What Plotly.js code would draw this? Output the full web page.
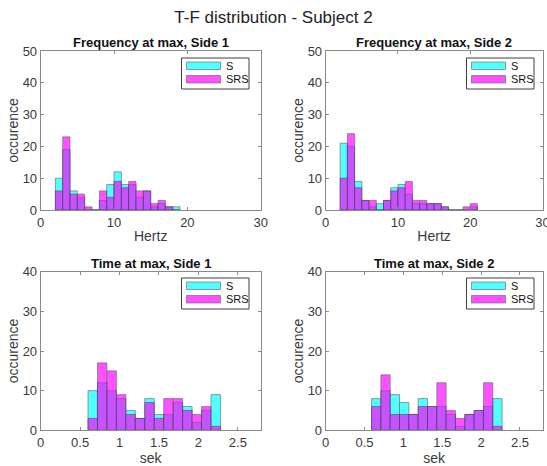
<!DOCTYPE html>
<html>
<head>
<meta charset="utf-8">
<script src="https://cdn.plot.ly/plotly-3.0.1.min.js"></script>
<style>html,body{margin:0;padding:0;background:#fff;}#chart{width:547px;height:466px;}</style>
</head>
<body>
<div id="chart"></div>
<script>
// ---- Data (bin counts) ----
const seriesNames = ["S", "SRS"];

// Frequency at max (Hz), 1 Hz bins
const freqBinStart1 = 2;   const freqBinWidth = 1;
const freqS_side1   = [10, 19, 6, 4, 0, 0, 3, 8, 12, 8, 8, 4, 6, 1, 2, 1, 1];
const freqSRS_side1 = [ 6, 23, 5, 5, 1, 0, 6, 4,  9, 7, 9, 6, 6, 2, 3, 1, 0];

const freqBinStart2 = 2;
const freqS_side2   = [21, 20, 9, 3, 1, 2, 3, 7, 8, 5, 2, 2, 2, 2, 1, 0, 0, 0, 1];
const freqSRS_side2 = [10, 24, 7, 3, 3, 0, 3, 6, 7, 9, 3, 3, 2, 2, 1, 0, 0, 1, 2];

// Time at max (sek), 0.12 s bins
const timeBinWidth = 0.12;
const timeBinStart1 = 0.60;
const timeS_side1   = [10, 12, 10, 8, 5, 3, 8, 4, 4, 7, 6, 2, 5, 9];
const timeSRS_side1 = [ 3, 17, 15, 9, 4, 3, 7, 3, 8, 8, 5, 4, 6, 1];

const timeBinStart2 = 0.59;
const timeS_side2   = [8, 10, 9, 7, 4, 8, 6,  6, 4, 1, 4, 5,  6, 8];
const timeSRS_side2 = [6, 14, 4, 4, 4, 6, 6, 12, 5, 3, 4, 5, 12, 1];

const titles = ["Frequency at max, Side 1", "Frequency at max, Side 2", "Time at max, Side 1", "Time at max, Side 2"];
const mainTitle = "T-F distribution - Subject 2";

// ---- Helpers ----
function centers(start, width, n) {
  const c = [];
  for (let i = 0; i < n; i++) c.push(+(start + width * (i + 0.5)).toFixed(4));
  return c;
}
const cyan = "rgb(0,255,255)";
const magenta = "rgb(255,0,255)";
const op = 0.68;
const edgeCol = "rgba(40,40,60,0.85)";
const edge = {color: edgeCol, width: 0.8};
const colors = [cyan, magenta];

const panels = [
  {s: freqS_side1, r: freqSRS_side1, start: freqBinStart1, w: freqBinWidth, xa: "x",  ya: "y"},
  {s: freqS_side2, r: freqSRS_side2, start: freqBinStart2, w: freqBinWidth, xa: "x2", ya: "y2"},
  {s: timeS_side1, r: timeSRS_side1, start: timeBinStart1, w: timeBinWidth, xa: "x3", ya: "y3"},
  {s: timeS_side2, r: timeSRS_side2, start: timeBinStart2, w: timeBinWidth, xa: "x4", ya: "y4"},
];

const traces = [];
panels.forEach(p => {
  const xs = centers(p.start, p.w, p.s.length);
  const xr = centers(p.start, p.w, p.r.length);
  traces.push({type: "bar", x: xs, y: p.s, width: p.w, name: seriesNames[0], xaxis: p.xa, yaxis: p.ya,
    marker: {color: cyan, line: edge}, opacity: op, showlegend: false, hoverinfo: "x+y"});
  traces.push({type: "bar", x: xr, y: p.r, width: p.w, name: seriesNames[1], xaxis: p.xa, yaxis: p.ya,
    marker: {color: magenta, line: edge}, opacity: op, showlegend: false, hoverinfo: "x+y"});
});

const W = 547, H = 466;
const fx = v => v / W, fy = v => 1 - v / H;
const domL = [fx(40.7), fx(260.7)], domR = [fx(325.7), fx(542.5)];
const domT = [fy(210), fy(51)], domB = [fy(430.3), fy(271.7)];

const font = "Liberation Sans, Arial, Helvetica, sans-serif";
function axis(dom, range, dtick, title, anchor, isY) {
  return {
    domain: dom, range: range, dtick: dtick, tick0: 0, anchor: anchor,
    showline: true, mirror: "ticks", linecolor: "#8a8a8a", linewidth: 1,
    ticks: "inside", ticklen: 3, tickcolor: "#8a8a8a",
    showgrid: false, zeroline: false, fixedrange: true,
    ticklabeloverflow: "allow",
    tickfont: {family: font, size: 13, color: "#3a3a3a"},
    title: {text: title, font: {family: font, size: 14, color: "#3a3a3a"}, standoff: isY ? 0 : 2}
  };
}

// Legend boxes (MATLAB style) drawn as shapes + text
const shapes = [];
const annotations = [];
const legendOrigins = [[181.5, 58], [466.5, 58], [181.5, 278], [466.5, 278]];
legendOrigins.forEach(([lx, ly]) => {
  shapes.push({type: "rect", xref: "paper", yref: "paper",
    x0: fx(lx), x1: fx(lx + 67.5), y0: fy(ly), y1: fy(ly + 31),
    fillcolor: "#ffffff", line: {color: "#404040", width: 1}, layer: "above"});
  seriesNames.forEach((nm, i) => {
    const top = ly + 4 + i * 13.5;
    shapes.push({type: "rect", xref: "paper", yref: "paper",
      x0: fx(lx + 5), x1: fx(lx + 39), y0: fy(top), y1: fy(top + 7.5),
      fillcolor: colors[i], opacity: op, line: {color: edgeCol, width: 0.8}, layer: "above"});
    annotations.push({text: nm, xref: "paper", yref: "paper", x: fx(lx + 42), y: fy(top + 3.9),
      xanchor: "left", yanchor: "middle", showarrow: false,
      font: {family: font, size: 11, color: "#111"}});
  });
});

const titleY = [42.5, 42.5, 263, 263];
["x", "x2", "x3", "x4"].forEach((xa, i) => {
  annotations.push({text: "<b>" + titles[i] + "</b>", xref: xa + " domain", yref: "paper",
    x: 0.5, y: fy(titleY[i]), xanchor: "center", yanchor: "middle", showarrow: false,
    font: {family: font, size: 13, color: "#111"}});
});

const layout = {
  width: W, height: H,
  margin: {l: 0, r: 0, t: 0, b: 0},
  paper_bgcolor: "#ffffff", plot_bgcolor: "#ffffff",
  barmode: "overlay", bargap: 0,
  showlegend: false,
  title: {text: mainTitle, x: 0.5, xanchor: "center", y: fy(17), yanchor: "middle",
    font: {family: font, size: 17, color: "#222"}},
  xaxis:  axis(domL, [0, 30], 10, "Hertz", "y"),
  yaxis:  axis(domT, [0, 50], 10, "occurence", "x", true),
  xaxis2: axis(domR, [0, 30], 10, "Hertz", "y2"),
  yaxis2: axis(domT, [0, 50], 10, "occurence", "x2", true),
  xaxis3: axis(domL, [0, 2.79], 0.5, "sek", "y3"),
  yaxis3: axis(domB, [0, 40], 10, "occurence", "x3", true),
  xaxis4: axis(domR, [0, 2.79], 0.5, "sek", "y4"),
  yaxis4: axis(domB, [0, 40], 10, "occurence", "x4", true),
  shapes: shapes,
  annotations: annotations
};

Plotly.newPlot("chart", traces, layout, {displayModeBar: false, staticPlot: true});
</script>
</body>
</html>
